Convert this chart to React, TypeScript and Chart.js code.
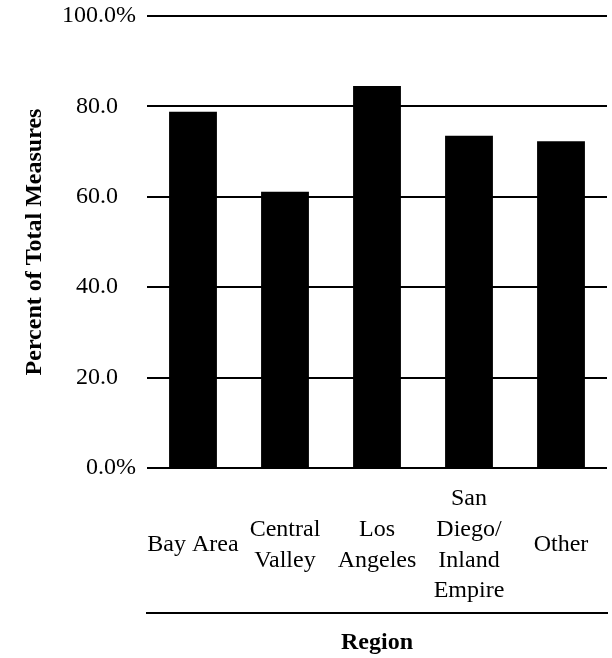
import React, { useEffect, useRef } from "react";
import { Chart, registerables } from "chart.js";

Chart.register(...registerables);

const regions: (string | string[])[] = [
  "Bay Area",
  ["Central", "Valley"],
  ["Los", "Angeles"],
  ["San", "Diego/", "Inland", "Empire"],
  "Other",
];
const percentValues: number[] = [78.8, 61.1, 84.5, 73.5, 72.3];
const yTickValues: number[] = [0, 20, 40, 60, 80, 100];
const yAxisTitle = "Percent of Total Measures";
const xAxisTitle = "Region";

const FONT = "'Liberation Serif', 'Times New Roman', serif";
// "%" hangs past the numbers, so plain ticks get trailing spacing of the same width
const HANG = "\u00A0\u00A0\u00A0";

export default function App() {
  const ref = useRef<HTMLCanvasElement | null>(null);

  useEffect(() => {
    if (!ref.current) return;
    const chart = new Chart(ref.current, {
      type: "bar",
      data: {
        labels: regions as any,
        datasets: [
          {
            data: percentValues,
            backgroundColor: "#000000",
            borderWidth: 0,
            barPercentage: 0.52,
            categoryPercentage: 1.0,
          },
        ],
      },
      options: {
        animation: false,
        responsive: false,
        devicePixelRatio: 1,
        layout: { padding: { top: 16, right: 5, left: 0, bottom: 0 } },
        plugins: {
          legend: { display: false },
          tooltip: { enabled: false },
        },
        scales: {
          y: {
            min: 0,
            max: 100,
            afterBuildTicks: (scale: any) => {
              scale.ticks = yTickValues.map((v) => ({ value: v }));
            },
            afterFit: (scale: any) => {
              scale.width = 147;
              scale.paddingTop = 0;
              scale.paddingBottom = 0;
            },
            ticks: {
              color: "#000",
              padding: 11,
              font: { family: FONT, size: 24, lineHeight: 1.2 },
              callback: (v: any) => {
                const n = Number(v);
                return n === 0 || n === 100 ? n.toFixed(1) + "%" : n.toFixed(1) + HANG;
              },
            },
            grid: {
              color: "#000",
              lineWidth: 2,
              drawTicks: false,
            },
            border: { display: false },
            title: {
              display: true,
              text: yAxisTitle,
              color: "#000",
              font: { family: FONT, size: 24, weight: "bold", lineHeight: 1.2 },
              padding: { top: 20, bottom: 0 },
            },
          },
          x: {
            position: "bottom",
            grid: { display: false },
            border: { display: false },
            afterFit: (scale: any) => {
              scale.height = 145;
            },
            ticks: {
              color: "#000",
              padding: 23,
              autoSkip: false,
              maxRotation: 0,
              minRotation: 0,
              crossAlign: "center",
              font: { family: FONT, size: 24, lineHeight: 1.28 },
            },
          },
          x2: {
            type: "category",
            position: "bottom",
            grid: { display: false },
            border: { display: true, color: "#000", width: 2 },
            ticks: { display: false },
            afterFit: (scale: any) => {
              scale.height = 45;
            },
            title: {
              display: true,
              text: xAxisTitle,
              color: "#000",
              font: { family: FONT, size: 24, weight: "bold", lineHeight: 1.2 },
              padding: { top: 14, bottom: 1 },
            },
          },
        },
      } as any,
    });
    return () => chart.destroy();
  }, []);

  return (
    <div style={{ position: "absolute", left: 0, top: 0, width: 612, height: 658, background: "#fff" }}>
      <canvas ref={ref} width={612} height={658} style={{ display: "block" }} />
    </div>
  );
}
